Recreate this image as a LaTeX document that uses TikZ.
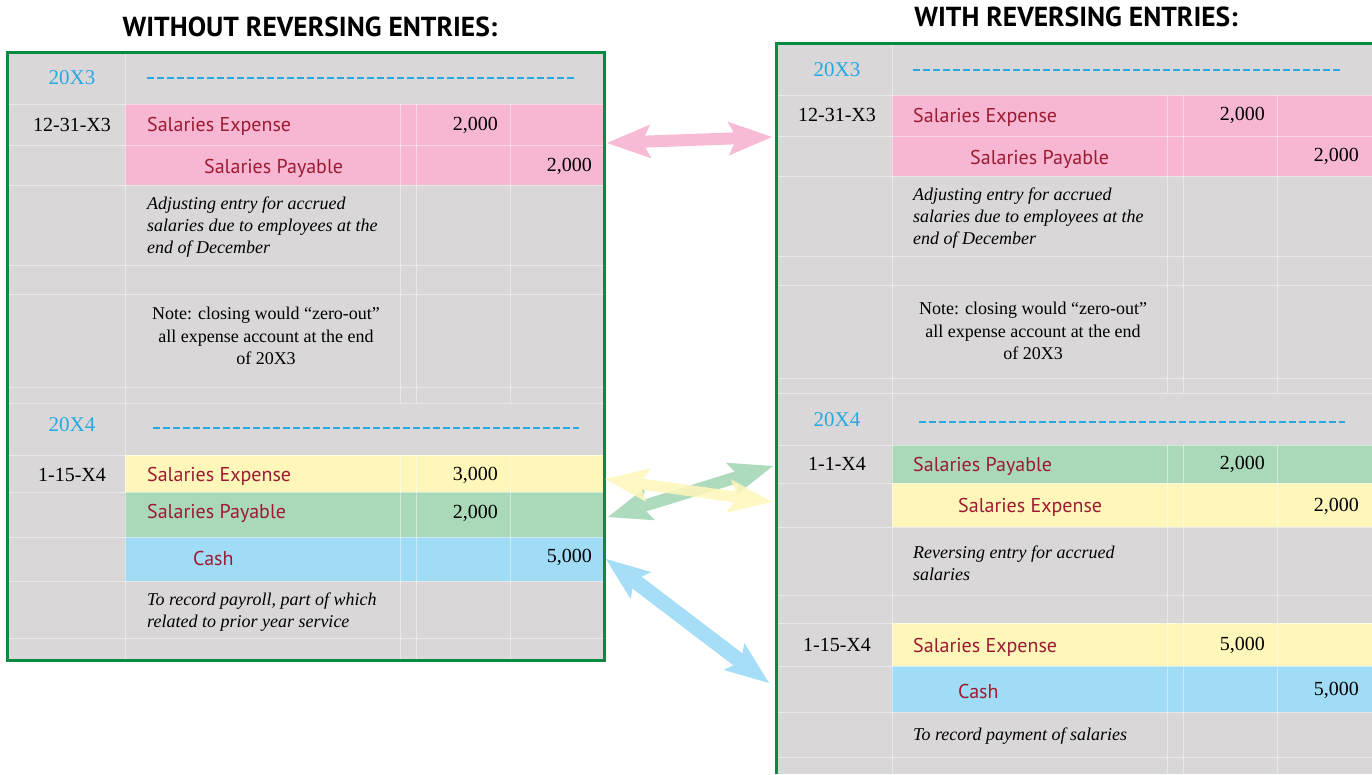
\documentclass[tikz,border=0pt]{standalone}
\usepackage{fontspec}
\setmainfont{Liberation Serif}
\newfontfamily\acctfont{PT Sans}
\usetikzlibrary{arrows.meta,positioning}

\definecolor{cellgrey}{RGB}{217,215,216}
\definecolor{framegreen}{RGB}{10,137,66}
\definecolor{pinkrow}{RGB}{247,183,211}
\definecolor{yellowrow}{RGB}{255,247,186}
\definecolor{greenrow}{RGB}{170,217,185}
\definecolor{bluerow}{RGB}{160,220,246}
\definecolor{yearblue}{RGB}{39,170,225}
\definecolor{acctred}{RGB}{155,27,50}

\tikzset{
  acct/.style={font=\acctfont\fontsize{20}{24}\selectfont, text=acctred, inner sep=0pt, anchor=west},
  amt/.style={font=\fontsize{20}{24}\selectfont, inner sep=0pt, anchor=east},
  datecell/.style={font=\fontsize{20}{24}\selectfont, inner sep=0pt},
  yearcell/.style={font=\fontsize{21}{24}\selectfont, text=yearblue, inner sep=0pt},
  memo/.style={font=\itshape\fontsize{18}{22}\selectfont, align=left, inner sep=0pt, anchor=west},
  notecell/.style={font=\fontsize{18}{22.5}\selectfont, align=center, inner sep=0pt},
  heading/.style={font=\acctfont\bfseries\fontsize{27.5}{30}\selectfont, inner sep=0pt},
  yearrule/.style={draw=yearblue, line width=1.5pt, dash pattern=on 7pt off 3pt},
  gridline/.style={draw=white, opacity=0.45, line width=1pt},
  frame/.style={draw=framegreen, line width=3pt},
  swap/.style={line width=#1, {Stealth[length=44pt,width=34pt,inset=9pt,line width=0pt]}-{Stealth[length=44pt,width=34pt,inset=9pt,line width=0pt]}}
}

\begin{document}
\begin{tikzpicture}[x=1pt,y=-1pt]
\useasboundingbox (0,0) rectangle (1372,774);

% titles
\node[heading] (titleL) at (310,27) {WITHOUT REVERSING ENTRIES:};
\node[heading] (titleR) at (1076,17) {WITH REVERSING ENTRIES:};

% left journal
\fill[cellgrey] (7,52) rectangle (604,660);
\fill[pinkrow] (125,104) rectangle (603,185);
\fill[yellowrow] (125,455) rectangle (603,492);
\fill[greenrow] (125,492) rectangle (603,537);
\fill[bluerow] (125,537) rectangle (603,581);
\foreach \y in {104,145,185,265,294,387,403,455,492,537,581,638}
  \draw[gridline] (7,\y) -- (603,\y);
\draw[gridline] (125,52) -- (125,660);
\foreach \x in {400,416,510} {
  \draw[gridline] (\x,104) -- (\x,403);
  \draw[gridline] (\x,455) -- (\x,660);
}
\draw[frame] (7,52) rectangle (604,660);

\node[yearcell] (yrL3) at (72,78) {20X3};
\draw[yearrule] (147,78) -- (575,78);
\node[datecell] (dateL1) at (72,125) {12-31-X3};
\node[acct] (expL1) at (147,126) {Salaries Expense};
\node[amt] (drL1) at (498,125) {2,000};
\node[acct] (payL1) at (204,168) {Salaries Payable};
\node[amt] (crL1) at (592,166) {2,000};
\node[memo] (memoL1) at (147,227) {Adjusting entry for accrued\\salaries due to employees at the\\end of December};
\node[notecell] (noteL) at (266,336) {Note: closing would “zero-out”\\all expense account at the end\\of 20X3};

\node[yearcell] (yrL4) at (72,425) {20X4};
\draw[yearrule] (153,428) -- (579,428);
\node[datecell] (dateL2) at (72,475) {1-15-X4};
\node[acct] (expL2) at (147,476) {Salaries Expense};
\node[amt] (drL2) at (498,475) {3,000};
\node[acct] (payL2) at (147,513) {Salaries Payable};
\node[amt] (drL3) at (498,513) {2,000};
\node[acct] (cashL) at (193,558) {Cash};
\node[amt] (crL2) at (592,557) {5,000};
\node[memo] (memoL2) at (147,612) {To record payroll, part of which\\related to prior year service};

% right journal
\fill[cellgrey] (776,43) rectangle (1372,774);
\fill[pinkrow] (892,95) rectangle (1372,176);
\fill[greenrow] (892,445) rectangle (1372,483);
\fill[yellowrow] (892,483) rectangle (1372,527);
\fill[yellowrow] (892,623) rectangle (1372,666);
\fill[bluerow] (892,666) rectangle (1372,712);
\foreach \y in {95,136,176,256,285,378,393,445,483,527,595,623,666,712,757}
  \draw[gridline] (776,\y) -- (1372,\y);
\draw[gridline] (892,43) -- (892,774);
\foreach \x in {1167,1183,1277} {
  \draw[gridline] (\x,95) -- (\x,393);
  \draw[gridline] (\x,445) -- (\x,774);
}
\draw[frame] (776,774) -- (776,43) -- (1372,43);

\node[yearcell] (yrR3) at (837,70) {20X3};
\draw[yearrule] (913,70) -- (1340,70);
\node[datecell] (dateR1) at (837,115) {12-31-X3};
\node[acct] (expR1) at (913,117) {Salaries Expense};
\node[amt] (drR1) at (1265,115) {2,000};
\node[acct] (payR1) at (970,159) {Salaries Payable};
\node[amt] (crR1) at (1359,156) {2,000};
\node[memo] (memoR1) at (913,218) {Adjusting entry for accrued\\salaries due to employees at the\\end of December};
\node[notecell] (noteR) at (1033,331) {Note: closing would “zero-out”\\all expense account at the end\\of 20X3};

\node[yearcell] (yrR4) at (837,420) {20X4};
\draw[yearrule] (919,422) -- (1345,422);
\node[datecell] (dateR2) at (837,464) {1-1-X4};
\node[acct] (payR2) at (913,466) {Salaries Payable};
\node[amt] (drR2) at (1265,464) {2,000};
\node[acct] (expR2) at (958,507) {Salaries Expense};
\node[amt] (crR2) at (1359,506) {2,000};
\node[memo] (memoR2) at (913,563) {Reversing entry for accrued\\salaries};
\node[datecell] (dateR3) at (837,645) {1-15-X4};
\node[acct] (expR3) at (913,647) {Salaries Expense};
\node[amt] (drR3) at (1265,645) {5,000};
\node[acct] (cashR) at (958,691) {Cash};
\node[amt] (crR3) at (1359,690) {5,000};
\node[memo] (memoR3) at (913,736) {To record payment of salaries};

% links between the two journals
\coordinate (pinkL) at (607,143);
\coordinate (pinkR) at (772,137);
\coordinate (greenL) at (608,517);
\coordinate (greenR) at (773,466);
\coordinate (yellowL) at (605,479);
\coordinate (yellowR) at (772,502);
\coordinate (blueL) at (606,559);
\coordinate (blueR) at (769,683);

\begin{scope}[transparency group, opacity=0.95]
  \draw[swap=12pt, pinkrow] (pinkL) -- (pinkR);
\end{scope}
\begin{scope}[transparency group, opacity=0.95]
  \draw[swap=12pt, greenrow] (greenL) -- (greenR);
\end{scope}
\begin{scope}[transparency group, opacity=0.85]
  \draw[swap=11pt, yellowrow] (yellowL) -- (yellowR);
\end{scope}
\begin{scope}[transparency group, opacity=0.95]
  \draw[swap=15pt, bluerow] (blueL) -- (blueR);
\end{scope}

\end{tikzpicture}
\end{document}
